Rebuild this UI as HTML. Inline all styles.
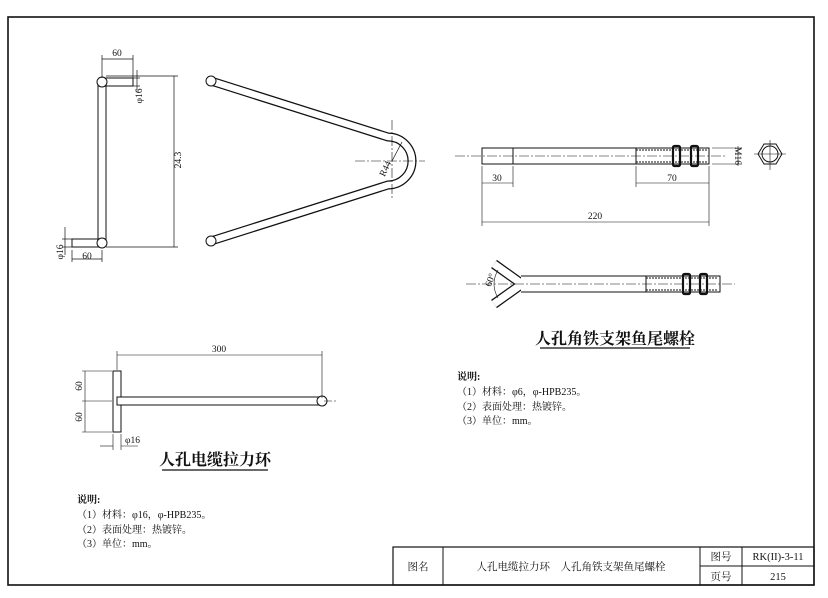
<!DOCTYPE html>
<html><head><meta charset="utf-8"><style>
html,body{margin:0;padding:0;background:#fff;}
svg{display:block;}
text{font-family:"Liberation Serif","Noto Serif CJK SC",serif;fill:#111;}
.cj{font-family:"Liberation Serif","Noto Serif CJK SC",serif;}
</style></head><body>
<svg width="828" height="598" viewBox="0 0 828 598" xmlns="http://www.w3.org/2000/svg">
<g fill="none" stroke="#111">
<rect x="8" y="17" width="806" height="568" stroke-width="1.6"/>
<rect x="393" y="547" width="421" height="38" stroke-width="1.2"/>
<line x1="443" y1="547" x2="443" y2="585" stroke-width="1"/>
<line x1="700" y1="547" x2="700" y2="585" stroke-width="1"/>
<line x1="742" y1="547" x2="742" y2="585" stroke-width="1"/>
<line x1="700" y1="566" x2="814" y2="566" stroke-width="1"/>

<g stroke-width="1">
<rect x="98" y="82" width="8" height="161"/>
<rect x="102" y="78" width="31" height="8"/>
<rect x="72" y="239" width="30" height="8"/>
<circle cx="102" cy="82" r="5" fill="#fff"/>
<circle cx="102" cy="243" r="5" fill="#fff"/>
</g>
<g stroke-width="0.7">
<line x1="102" y1="55" x2="102" y2="78"/><line x1="133" y1="55" x2="133" y2="78"/>
<line x1="102" y1="59" x2="133" y2="59"/>
<line x1="106" y1="76" x2="178" y2="76"/><line x1="106" y1="247" x2="178" y2="247"/>
<line x1="174" y1="76" x2="174" y2="247"/>
<line x1="137" y1="70" x2="137" y2="92"/><line x1="133" y1="78" x2="140" y2="78"/><line x1="133" y1="86" x2="140" y2="86"/>
<line x1="65" y1="227" x2="65" y2="255"/><line x1="62" y1="239" x2="72" y2="239"/><line x1="62" y1="247" x2="72" y2="247"/>
<line x1="72" y1="250" x2="72" y2="262"/><line x1="102" y1="250" x2="102" y2="262"/>
<line x1="72" y1="259" x2="102" y2="259"/>
</g>

<path d="M211,81 L388,137 A24,24 0 1 1 388,185 L211,241" stroke-width="9"/>
<path d="M211,81 L388,137 A24,24 0 1 1 388,185 L211,241" stroke="#fff" stroke-width="6.5"/>
<circle cx="211" cy="81" r="5" fill="#fff" stroke-width="1"/>
<circle cx="211" cy="241" r="5" fill="#fff" stroke-width="1"/>
<g stroke-width="0.6" stroke-dasharray="10,2,2,2">
<line x1="392" y1="120" x2="392" y2="200"/><line x1="355" y1="161" x2="425" y2="161"/>
</g>
<line x1="392" y1="161" x2="402" y2="142" stroke-width="0.7"/>

<g stroke-width="1">
<rect x="482" y="148" width="227" height="16"/>
<line x1="513" y1="148" x2="513" y2="164"/>
<line x1="636" y1="148" x2="636" y2="164"/>
<line x1="636" y1="150" x2="707" y2="150" stroke-dasharray="2,1"/>
<line x1="636" y1="162" x2="707" y2="162" stroke-dasharray="2,1"/>
<rect x="673" y="146" width="7" height="20" rx="1.5" stroke-width="2.2"/>
<rect x="691" y="146" width="7" height="20" rx="1.5" stroke-width="2.2"/>
<polygon points="758,154 764,144 776,144 782,154 776,164 764,164" fill="#fff"/>
<circle cx="770" cy="154" r="8"/>
</g>
<g stroke-width="0.6">
<line x1="455" y1="156" x2="725" y2="156" stroke-dasharray="10,2,2,2"/>
<line x1="770" y1="140" x2="770" y2="170"/><line x1="754" y1="154" x2="786" y2="154"/>
<line x1="712" y1="148" x2="742" y2="148"/><line x1="712" y1="164" x2="742" y2="164"/><line x1="738" y1="146" x2="738" y2="166"/>
<line x1="482" y1="166" x2="482" y2="226"/><line x1="513" y1="166" x2="513" y2="187"/>
<line x1="636" y1="166" x2="636" y2="187"/><line x1="709" y1="166" x2="709" y2="226"/>
<line x1="482" y1="183" x2="513" y2="183"/><line x1="636" y1="183" x2="709" y2="183"/>
<line x1="482" y1="222" x2="709" y2="222"/>
</g>

<path d="M494,264 L522,284 L494,304" stroke-width="10"/>
<path d="M494,264 L522,284 L494,304" stroke="#fff" stroke-width="7.5"/>
<g stroke-width="1">
<path d="M521,276 L720,276 L720,292 L521,292" fill="#fff"/>
<line x1="646" y1="276" x2="646" y2="292"/>
<line x1="646" y1="278" x2="718" y2="278" stroke-dasharray="2,1"/>
<line x1="646" y1="290" x2="718" y2="290" stroke-dasharray="2,1"/>
<rect x="683" y="274" width="7" height="20" rx="1.5" stroke-width="2.2"/>
<rect x="700" y="274" width="7" height="20" rx="1.5" stroke-width="2.2"/>
</g>
<line x1="466" y1="284" x2="735" y2="284" stroke-width="0.6" stroke-dasharray="10,2,2,2"/>
<path d="M498,270 Q490,284 498,298" stroke-width="0.6"/>
<line x1="540" y1="348" x2="690" y2="348" stroke-width="1.2"/>

<g stroke-width="1">
<rect x="113" y="371" width="8" height="61"/>
<rect x="117" y="397" width="205" height="8" fill="#fff"/>
<circle cx="322" cy="401" r="5" fill="#fff"/>
</g>
<g stroke-width="0.6">
<line x1="324" y1="401" x2="336" y2="401" stroke-dasharray="8,2,2,2"/>
<line x1="117" y1="351" x2="117" y2="370"/><line x1="322" y1="351" x2="322" y2="398"/>
<line x1="117" y1="355" x2="322" y2="355"/>
<line x1="82" y1="371" x2="112" y2="371"/><line x1="82" y1="401" x2="112" y2="401"/><line x1="82" y1="432" x2="112" y2="432"/>
<line x1="85" y1="371" x2="85" y2="432"/>
<line x1="113" y1="434" x2="113" y2="450"/><line x1="121" y1="434" x2="121" y2="450"/>
<line x1="100" y1="446" x2="113" y2="446"/><line x1="121" y1="446" x2="138" y2="446"/>
</g>
<line x1="162" y1="470" x2="268" y2="470" stroke-width="1.2"/>
</g>

<g font-size="9.5">
<text x="117" y="56" text-anchor="middle">60</text>
<text x="87" y="259" text-anchor="middle">60</text>
<text transform="translate(181,160) rotate(-90)" text-anchor="middle">24.3</text>
<text transform="translate(142,96) rotate(-90)" text-anchor="middle">φ16</text>
<text transform="translate(63,252) rotate(-90)" text-anchor="middle">φ16</text>
<text transform="translate(388,170) rotate(-65)" text-anchor="middle">R44</text>
<text x="497" y="181" text-anchor="middle">30</text>
<text x="672" y="181" text-anchor="middle">70</text>
<text x="595" y="219" text-anchor="middle">220</text>
<text transform="translate(735,156) rotate(90)" text-anchor="middle">M16</text>
<text transform="translate(493,281) rotate(-70)" text-anchor="middle">60°</text>
<text x="219" y="352" text-anchor="middle">300</text>
<text transform="translate(82,386) rotate(-90)" text-anchor="middle">60</text>
<text transform="translate(82,417) rotate(-90)" text-anchor="middle">60</text>
<text x="125" y="443">φ16</text>
</g>
<text class="cj" x="615" y="344" font-size="16" font-weight="bold" text-anchor="middle">人孔角铁支架鱼尾螺栓</text>
<text class="cj" x="215" y="465" font-size="16" font-weight="bold" text-anchor="middle">人孔电缆拉力环</text>
<g class="cj" font-size="10">
<text x="457" y="380" font-weight="bold">说明:</text>
<text x="457" y="395">（1）材料：φ6，φ-HPB235。</text>
<text x="457" y="410">（2）表面处理：热镀锌。</text>
<text x="457" y="424">（3）单位：mm。</text>
<text x="77" y="503" font-weight="bold">说明:</text>
<text x="77" y="518">（1）材料：φ16，φ-HPB235。</text>
<text x="77" y="533">（2）表面处理：热镀锌。</text>
<text x="77" y="547">（3）单位：mm。</text>
<text x="418" y="570" text-anchor="middle" font-size="10.5">图名</text>
<text x="571" y="570" text-anchor="middle" font-size="10.5">人孔电缆拉力环　人孔角铁支架鱼尾螺栓</text>
<text x="721" y="560" text-anchor="middle" font-size="10.5">图号</text>
<text x="721" y="580" text-anchor="middle" font-size="10.5">页号</text>
<text x="778" y="560" text-anchor="middle" font-size="10.5">RK(II)-3-11</text>
<text x="778" y="580" text-anchor="middle" font-size="10.5">215</text>
</g>
</svg>
</body></html>
